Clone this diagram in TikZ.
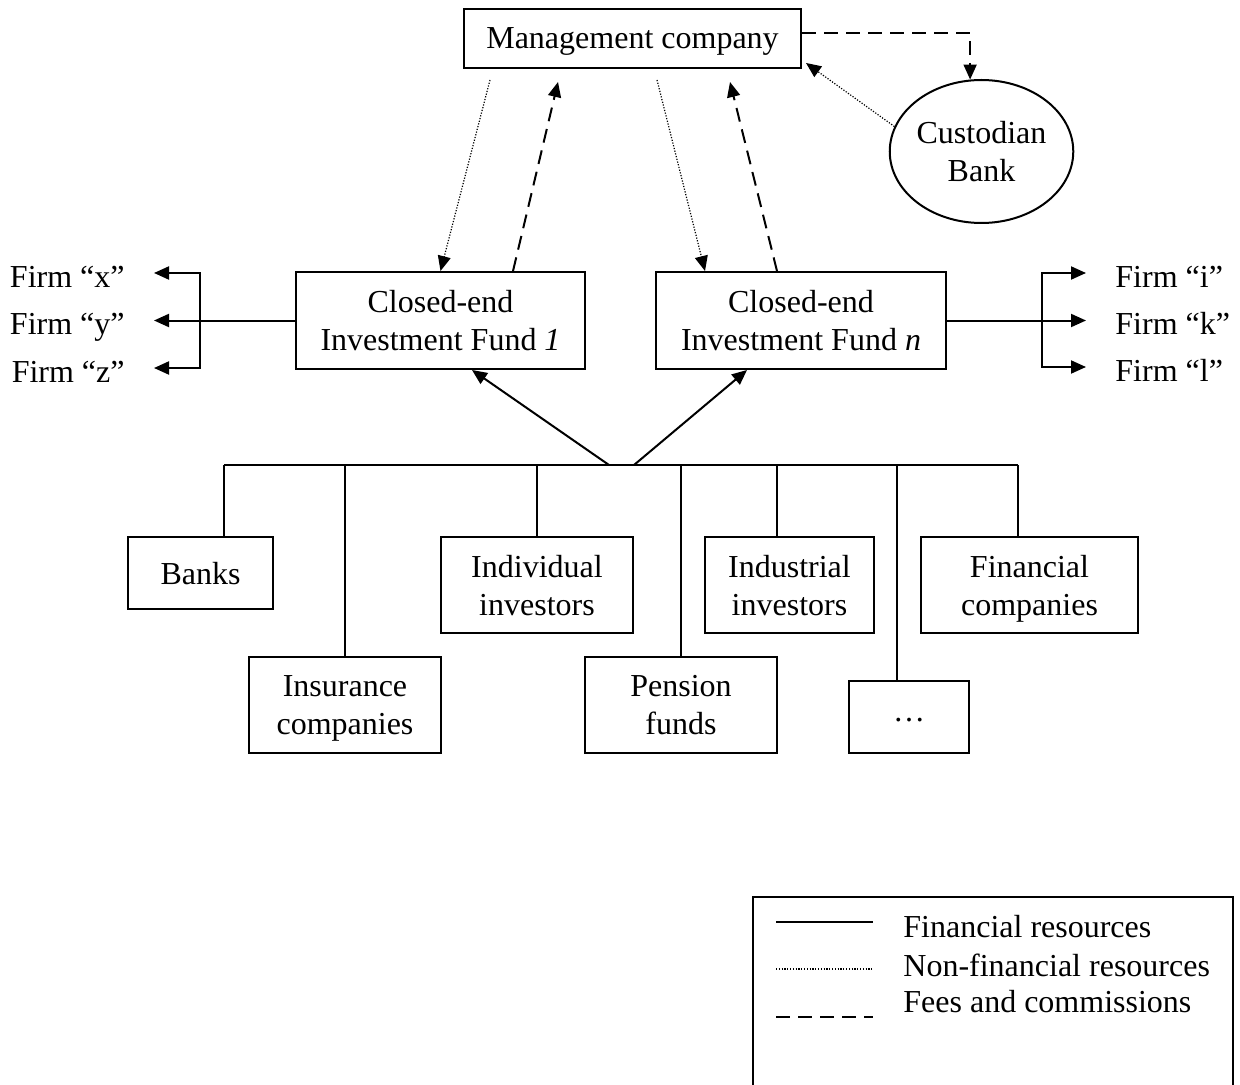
\documentclass[tikz,border=0pt]{standalone}
\usepackage{fontspec}
\setmainfont{Liberation Serif}
\usetikzlibrary{arrows.meta,calc,shapes.geometric}

\tikzset{
    box/.style={draw, line width=1pt, align=center, inner sep=0pt, text depth=0pt},
    fin/.style={line width=1pt},
    nonfin/.style={line width=0.6pt, dash pattern=on 0.6pt off 0.8pt},
    fee/.style={line width=1pt, dash pattern=on 7pt off 4pt},
    tip/.style={-{Triangle[length=7.5pt,width=6.5pt]}},
    firm/.style={inner xsep=14.5pt, inner ysep=0pt, text height=14.5pt, text depth=0pt},
}

\begin{document}
\begin{tikzpicture}[x=0.5pt, y=-0.5pt, font=\fontsize{16}{19}\selectfont]
    \useasboundingbox (0,0) rectangle (1240,1085);

    % Management company and custodian bank
    \node[box, minimum width=168.5pt, minimum height=29.5pt] (mgmt) at (632.5,38.5) {Management company};
    \node[box, ellipse, minimum width=84.5pt, minimum height=71.5pt] (cust) at (981.5,151.5) {Custodian\\Bank};

    % Funds
    \node[box, minimum width=144.5pt, minimum height=48.5pt] (fundA) at (440.5,320.5) {Closed-end\\Investment Fund \textit{1}};
    \node[box, minimum width=145pt, minimum height=48.5pt] (fundB) at (801,320.5) {Closed-end\\Investment Fund \textit{n}};

    % Firms
    \node[firm, anchor=east] (fx) at (154,273) {Firm “x”};
    \node[firm, anchor=east] (fy) at (154,320.5) {Firm “y”};
    \node[firm, anchor=east] (fz) at (154,368) {Firm “z”};
    \node[firm, anchor=west] (fi) at (1086,273) {Firm “i”};
    \node[firm, anchor=west] (fk) at (1086,320.5) {Firm “k”};
    \node[firm, anchor=west] (fl) at (1086,367) {Firm “l”};

    % Investors
    \node[box, minimum width=72.5pt, minimum height=36pt] (banks) at (200.5,573) {Banks};
    \node[box, minimum width=96pt, minimum height=48pt] (insur) at (345,705) {Insurance\\companies};
    \node[box, minimum width=96pt, minimum height=48pt] (indiv) at (537,585) {Individual\\investors};
    \node[box, minimum width=96pt, minimum height=48pt] (pension) at (681,705) {Pension\\funds};
    \node[box, minimum width=84.5pt, minimum height=48pt] (indus) at (789.5,585) {Industrial\\investors};
    \node[box, minimum width=60pt, minimum height=36pt] (etc) at (909,717) {\raisebox{-2pt}{…}};
    \node[box, minimum width=108.5pt, minimum height=48pt] (fincomp) at (1029.5,585) {Financial\\companies};

    % Free ends
    \coordinate (m1) at (490,80);
    \coordinate (m2) at (558,82);
    \coordinate (m3) at (657,80);
    \coordinate (m4) at (730,82);
    \coordinate (busL) at (224,465);
    \coordinate (busR) at (1018,465);
    \coordinate (sA) at (609,465);
    \coordinate (sB) at (634,465);

    % Management company <-> funds
    \draw[nonfin, tip] (m1) -- (fundA.north);
    \draw[fee, tip] ($(fundA.north)+(72.5,0)$) -- (m2);
    \draw[nonfin, tip] (m3) -- ($(fundB.north)+(-96,0)$);
    \draw[fee, tip] ($(fundB.north)+(-24,0)$) -- (m4);

    % Management company <-> custodian
    \draw[fee, tip] ($(mgmt.east)+(0,-5.5)$) -| (cust.99);
    \draw[nonfin, tip] (cust.164) -- ($(mgmt.south east)+(4,-6)$);

    % Funds -> firms
    \draw[fin, tip] (fundA.west) -- (fy.east);
    \draw[fin, tip] ($(fundA.west)+(-95,0)$) |- (fx.east);
    \draw[fin, tip] ($(fundA.west)+(-95,0)$) |- (fz.east);
    \draw[fin, tip] (fundB.east) -- (fk.west);
    \draw[fin, tip] ($(fundB.east)+(95,0)$) |- (fi.west);
    \draw[fin, tip] ($(fundB.east)+(95,0)$) |- (fl.west);

    % Investors -> funds
    \draw[fin] (busL) -- (busR);
    \foreach \n/\x in {banks/224, insur/345, indiv/537, pension/681, indus/777, etc/897, fincomp/1018}
        \draw[fin] (\x,465) -- (\x,0 |- \n.north);
    \draw[fin, tip] (sA) -- ($(fundA.south)+(31.5,0)$);
    \draw[fin, tip] (sB) -- ($(fundB.south)+(-54,0)$);

    % Legend
    \draw[fin] (753,1085) |- (1233,897) -- (1233,1085);
    \draw[fin] (776,922) -- (873,922);
    \draw[nonfin] (776,969) -- (873,969);
    \draw[fee] (776,1017) -- (873,1017);
    \node[anchor=west, inner sep=0pt] (lfin) at (903,927) {Financial resources};
    \node[anchor=west, inner sep=0pt] (lnon) at (903,965) {Non-financial resources};
    \node[anchor=west, inner sep=0pt] (lfee) at (903,1002) {Fees and commissions};

\end{tikzpicture}
\end{document}
